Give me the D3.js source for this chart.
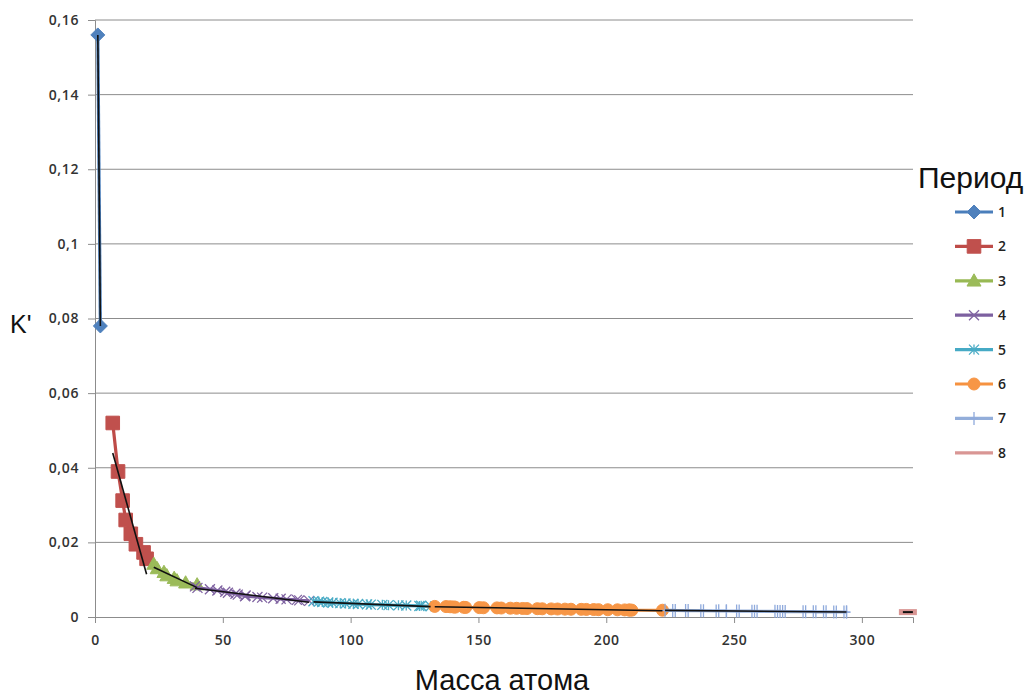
<!DOCTYPE html>
<html>
<head>
<meta charset="utf-8">
<script src="https://cdn.jsdelivr.net/npm/d3@7"></script>
<style>
  body { margin: 0; background: #fff; }
  text { font-family: "Liberation Sans", Arial, sans-serif; }
</style>
</head>
<body>
<div id="chart"></div>
<script>
// periods of the table, x = atomic mass, y = K'
const periods = ["1", "2", "3", "4", "5", "6", "7", "8"];

const massP1 = [1.1, 2.1];
const kP1 = [0.156, 0.078];

const massP2 = [6.94, 9.01, 10.81, 12.01, 14.01, 16.00, 19.00, 20.18];
const kP2 = [0.0520, 0.0390, 0.0312, 0.0260, 0.0223, 0.0195, 0.0173, 0.0156];

const massP3 = [22.99, 24.31, 26.98, 28.09, 30.97, 32.06, 35.45, 39.95];
const kP3 = [0.0142, 0.0130, 0.0120, 0.0111, 0.0104, 0.00975, 0.00918, 0.00867];

const massP4 = [39.10, 40.08, 44.96, 47.87, 50.94, 52.00, 54.94, 55.85, 58.93, 58.69,
  63.55, 65.38, 69.72, 72.63, 74.92, 78.97, 79.90, 83.80];
const kP4 = [0.00821, 0.00780, 0.00743, 0.00709, 0.00678, 0.00650, 0.00624, 0.00600, 0.00578, 0.00557,
  0.00538, 0.00520, 0.00503, 0.00488, 0.00473, 0.00459, 0.00446, 0.00433];

const massP5 = [85.47, 87.62, 88.91, 91.22, 92.91, 95.95, 98.00, 101.07, 102.91, 106.42,
  107.87, 112.41, 114.82, 118.71, 121.76, 127.60, 126.90, 131.29];
const kP5 = [0.00422, 0.00411, 0.00400, 0.00390, 0.00380, 0.00371, 0.00363, 0.00355, 0.00347, 0.00339,
  0.00332, 0.00325, 0.00318, 0.00312, 0.00306, 0.00300, 0.00294, 0.00289];

const massP6 = [132.91, 137.33, 138.91, 140.12, 140.91, 144.24, 145.00, 150.36, 151.96, 157.25,
  158.93, 162.50, 164.93, 167.26, 168.93, 173.05, 174.97, 178.49, 180.95, 183.84,
  186.21, 190.23, 192.22, 195.08, 196.97, 200.59, 204.38, 207.20, 208.98, 209.00,
  210.00, 222.00];
const kP6 = [0.00284, 0.00279, 0.00274, 0.00269, 0.00264, 0.00260, 0.00256, 0.00252, 0.00248, 0.00244,
  0.00240, 0.00236, 0.00233, 0.00229, 0.00226, 0.00223, 0.00220, 0.00217, 0.00214, 0.00211,
  0.00208, 0.00205, 0.00203, 0.00200, 0.00197, 0.00195, 0.00193, 0.00190, 0.00188, 0.00186,
  0.00184, 0.00181];

const massP7 = [223, 226, 227, 232.04, 231.04, 238.03, 237, 244, 243, 247,
  247, 251, 252, 257, 258, 259, 266, 267, 268, 269,
  270, 277, 278, 281, 282, 285, 286, 289, 290, 293,
  294, 294];
const kP7 = [0.00179, 0.00177, 0.00175, 0.00173, 0.00171, 0.00170, 0.00168, 0.00166, 0.00164, 0.00163,
  0.00161, 0.00159, 0.00158, 0.00156, 0.00154, 0.00153, 0.00151, 0.00150, 0.00149, 0.00147,
  0.00146, 0.00144, 0.00143, 0.00142, 0.00140, 0.00139, 0.00138, 0.00137, 0.00136, 0.00134,
  0.00133, 0.00132];

const massP8 = [318];
const kP8 = [0.00131];

const yTicks = [0, 0.02, 0.04, 0.06, 0.08, 0.1, 0.12, 0.14, 0.16];
const xTicks = [0, 50, 100, 150, 200, 250, 300];

const lineColors   = ["#4A7EBB", "#BE4B48", "#98B954", "#7D60A0", "#46AAC5", "#F69240", "#93AEDA", "#D99694"];
const markerColors = ["#4F81BD", "#C0504D", "#9BBB59", "#8064A2", "#4BACC6", "#F79646", "#8FAADC", "#D99694"];
const markerTypes  = ["diamond", "square", "triangle", "times", "asterisk", "circle", "plus", "dash"];

const allMass = [massP1, massP2, massP3, massP4, massP5, massP6, massP7, massP8];
const allK = [kP1, kP2, kP3, kP4, kP5, kP6, kP7, kP8];

const series = periods.map((p, i) => ({
  name: p,
  color: lineColors[i],
  mcolor: markerColors[i],
  marker: markerTypes[i],
  points: allMass[i].map((m, j) => ({ x: m, y: allK[i][j] }))
}));

const W = 1034, H = 695;
const margin = { left: 95, right: 121, top: 20, bottom: 78 };
const width = W - margin.left - margin.right;
const height = H - margin.top - margin.bottom;

const svg = d3.select("#chart").append("svg")
  .attr("width", W).attr("height", H);

const g = svg.append("g")
  .attr("transform", `translate(${margin.left},${margin.top})`);

const x = d3.scaleLinear().domain([0, 320]).range([0, width]);
const y = d3.scaleLinear().domain([0, 0.16]).range([height, 0]);

const fmt = d => String(+d.toFixed(2)).replace(".", ",");

// gridlines
g.selectAll("line.grid")
  .data(yTicks.slice(1))
  .enter().append("line")
  .attr("class", "grid")
  .attr("x1", 0).attr("x2", width)
  .attr("y1", d => y(d)).attr("y2", d => y(d))
  .attr("stroke", "#8c8c8c").attr("stroke-width", 1);

// axes
const yAxis = g.append("g")
  .call(d3.axisLeft(y).tickValues(yTicks).tickFormat(fmt).tickSize(7).tickPadding(9));
const xAxis = g.append("g")
  .attr("transform", `translate(0,${height})`)
  .call(d3.axisBottom(x).tickValues(xTicks).tickSize(6).tickPadding(12));
[yAxis, xAxis].forEach(a => {
  a.select(".domain").attr("stroke", "#8c8c8c");
  a.selectAll(".tick line").attr("stroke", "#8c8c8c");
  a.selectAll(".tick text")
    .attr("fill", "#333")
    .style("font-family", "'Open Sans', sans-serif")
    .style("font-size", "14px")
    .style("font-weight", "600")
    .style("letter-spacing", "0.6px");
});

// marker shapes
const markerPath = (type, h) => {
  switch (type) {
    case "diamond": return `M0,${-h}L${h},0L0,${h}L${-h},0Z`;
    case "square": return `M${-h},${-h}H${h}V${h}H${-h}Z`;
    case "triangle": return `M0,${-h}L${h},${h * 0.75}L${-h},${h * 0.75}Z`;
    case "times": return `M${-h},${-h}L${h},${h}M${-h},${h}L${h},${-h}`;
    case "asterisk": return `M${-h},${-h}L${h},${h}M${-h},${h}L${h},${-h}M0,${-h}V${h}`;
    case "plus": return `M0,${-h}V${h}M${-h * 0.6},0H${h * 0.6}`;
    default: return "";
  }
};
const markerSize = { diamond: 7, square: 6.8, triangle: 7, times: 5, asterisk: 5, plus: 6.5 };

const drawMarker = (sel, s) => {
  if (s.marker === "circle") {
    sel.append("circle").attr("r", 6).attr("fill", s.mcolor).attr("stroke", s.mcolor);
  } else if (s.marker === "dash") {
    sel.append("rect").attr("x", -9).attr("y", -3).attr("width", 18).attr("height", 6)
      .attr("fill", "#D99694");
    sel.append("line").attr("x1", -5).attr("x2", 5).attr("stroke", "#111").attr("stroke-width", 2);
  } else {
    const filled = ["diamond", "square", "triangle"].includes(s.marker);
    sel.append("path")
      .attr("d", markerPath(s.marker, markerSize[s.marker]))
      .attr("fill", filled ? s.mcolor : "none")
      .attr("stroke", s.mcolor)
      .attr("stroke-width", filled ? 1 : 1.3);
  }
};

const line = d3.line().x(d => x(d.x)).y(d => y(d.y));

// series lines and markers
series.forEach(s => {
  if (s.points.length > 1) {
    g.append("path")
      .datum(s.points)
      .attr("d", line)
      .attr("fill", "none")
      .attr("stroke", s.color)
      .attr("stroke-width", 3.2)
      .attr("stroke-linejoin", "round");
  }
  g.selectAll(null)
    .data(s.points)
    .enter().append("g")
    .attr("transform", d => `translate(${x(d.x)},${y(d.y)})`)
    .each(function () { drawMarker(d3.select(this), s); });
});

// linear trend line for each period
series.filter(s => s.points.length > 1).forEach(s => {
  const mx = d3.mean(s.points, d => d.x), my = d3.mean(s.points, d => d.y);
  const sxy = d3.sum(s.points, d => (d.x - mx) * (d.y - my));
  const sxx = d3.sum(s.points, d => (d.x - mx) ** 2);
  const b = sxy / sxx, a = my - b * mx;
  const [x0, x1] = d3.extent(s.points, d => d.x);
  g.append("line")
    .attr("x1", x(x0)).attr("y1", y(a + b * x0))
    .attr("x2", x(x1)).attr("y2", y(a + b * x1))
    .attr("stroke", "#111").attr("stroke-width", 1.6);
});

// axis titles
svg.append("text")
  .attr("x", margin.left + x(160) - 2).attr("y", 690)
  .attr("text-anchor", "middle")
  .style("font-size", "29px").attr("fill", "#111")
  .text("Масса атома");

svg.append("text")
  .attr("x", 10).attr("y", 333)
  .style("font-size", "25px").attr("fill", "#111")
  .text("K'");

// legend
const legend = svg.append("g");
legend.append("text")
  .attr("x", 918).attr("y", 188)
  .style("font-size", "30px").attr("fill", "#111")
  .text("Период");

series.forEach((s, i) => {
  const ly = 212 + i * 34.4;
  const row = legend.append("g").attr("transform", `translate(974,${ly})`);
  row.append("line").attr("x1", -19).attr("x2", 19)
    .attr("stroke", s.color).attr("stroke-width", 3.2);
  if (s.marker !== "dash") drawMarker(row, s);
  row.append("text")
    .attr("x", 24).attr("y", 5)
    .style("font-family", "'Open Sans', sans-serif")
    .style("font-size", "14px").style("font-weight", "600")
    .attr("fill", "#222")
    .text(s.name);
});
</script>
</body>
</html>
